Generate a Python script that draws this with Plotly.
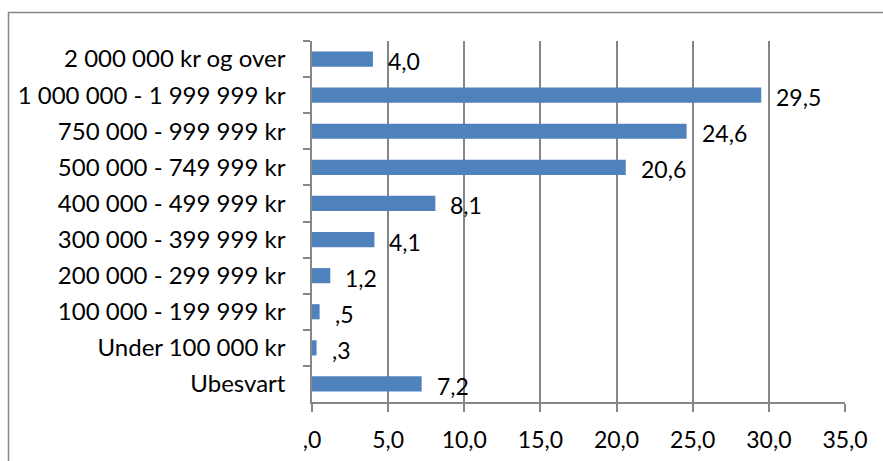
import plotly.graph_objects as go

categories = [
    "2 000 000 kr og over",
    "1 000 000 - 1 999 999 kr",
    "750 000 - 999 999 kr",
    "500 000 - 749 999 kr",
    "400 000 - 499 999 kr",
    "300 000 - 399 999 kr",
    "200 000 - 299 999 kr",
    "100 000 - 199 999 kr",
    "Under 100 000 kr",
    "Ubesvart",
]
values = [4.0, 29.5, 24.6, 20.6, 8.1, 4.1, 1.2, 0.5, 0.3, 7.2]
x_tickvals = [0, 5, 10, 15, 20, 25, 30, 35]
x_ticktext = [",0", "5,0", "10,0", "15,0", "20,0", "25,0", "30,0", "35,0"]


def fmt(v):
    s = f"{v:.1f}".replace(".", ",")
    if s.startswith("0,"):
        s = s[1:]
    return s


FONT = "Lato"
FS = 24
FSN = 23
GRAY = "#868686"

fig = go.Figure()
fig.add_trace(go.Bar(
    x=values,
    y=categories,
    orientation="h",
    marker=dict(color="#4F81BD", line=dict(width=0)),
    hoverinfo="skip",
))

for v, c in zip(values, categories):
    fig.add_annotation(
        x=v, y=c, xref="x", yref="y",
        text=fmt(v), showarrow=False,
        xanchor="left", yanchor="middle",
        xshift=13, yshift=-2,
        font=dict(family=FONT, size=FSN, color="black"),
    )

W, H = 883, 461
L, R, T, B = 312, 38, 41, 59
pw, ph = W - L - R, H - T - B

fig.add_shape(
    type="rect", xref="paper", yref="paper",
    x0=(8.5 - L) / pw, x1=(W + 10 - L) / pw,
    y0=(H - B - (H + 10)) / ph, y1=(H - B - 12.5) / ph,
    line=dict(color=GRAY, width=1.5), fillcolor="rgba(0,0,0,0)",
    layer="below",
)

fig.update_layout(
    width=W, height=H,
    margin=dict(l=L, r=R, t=T, b=B, pad=0, autoexpand=False),
    paper_bgcolor="white", plot_bgcolor="white",
    showlegend=False,
    bargap=0.58,
    font=dict(family=FONT, size=FS, color="black"),
    xaxis=dict(
        range=[0, 35], tickvals=x_tickvals, ticktext=x_ticktext,
        showgrid=True, gridcolor=GRAY, gridwidth=1.5,
        showline=True, linecolor=GRAY, linewidth=1.5,
        ticks="outside", ticklen=8, tickcolor=GRAY, tickwidth=1.5,
        ticklabelstandoff=9, zeroline=False, automargin=False,
        tickfont=dict(family=FONT, size=FSN, color="black"),
        fixedrange=True,
    ),
    yaxis=dict(
        categoryorder="array", categoryarray=categories,
        autorange="reversed",
        showgrid=False, zeroline=False, automargin=False,
        showline=True, linecolor=GRAY, linewidth=1.5,
        ticks="outside", ticklen=7, tickcolor=GRAY, tickwidth=1.5,
        tickson="boundaries",
        ticklabelstandoff=20,
        tickfont=dict(family=FONT, size=FS, color="black"),
        fixedrange=True,
    ),
)

fig.write_html("out.html")
